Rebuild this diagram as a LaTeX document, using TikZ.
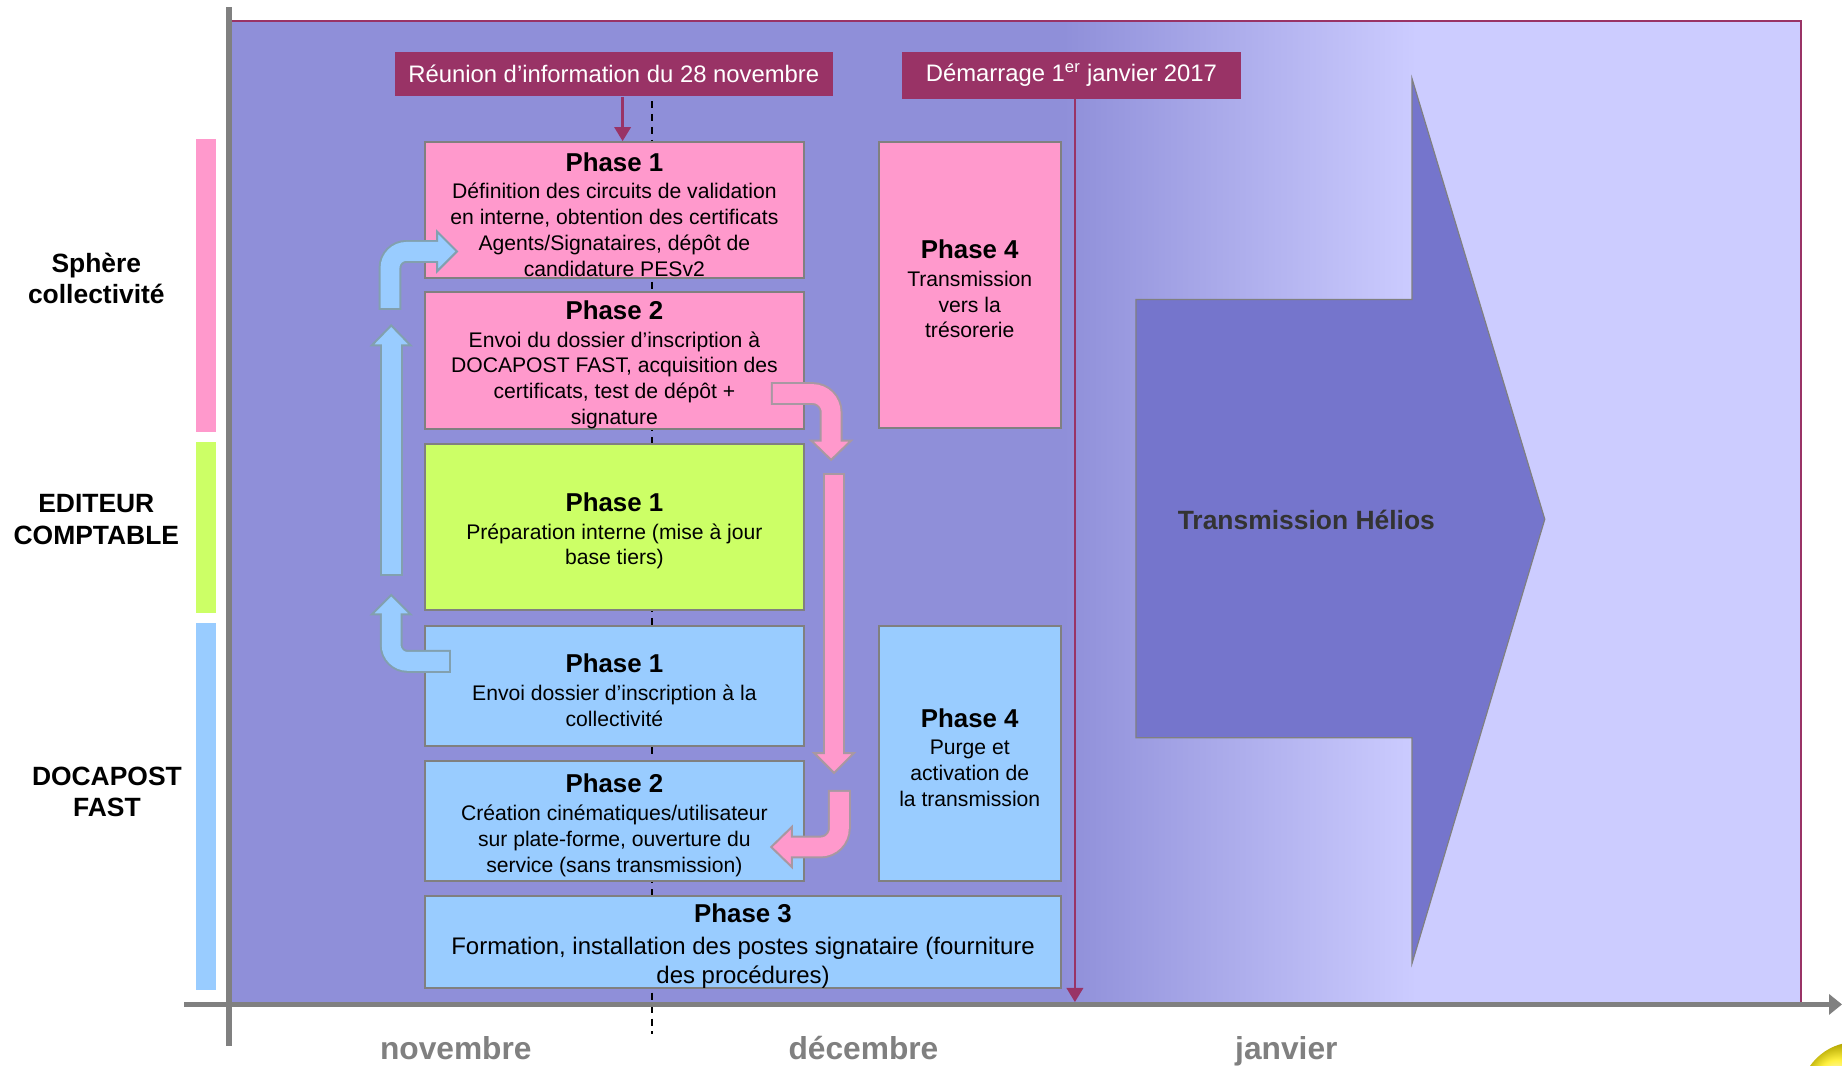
\documentclass[tikz,border=0pt]{standalone}
\usepackage{fontspec}
\setmainfont{Liberation Sans}
\usetikzlibrary{arrows.meta}

\definecolor{bgA}{RGB}{143,143,217}
\definecolor{bgB}{RGB}{204,204,255}
\definecolor{helios}{RGB}{117,117,204}
\definecolor{plum}{RGB}{153,51,102}
\definecolor{pinkbox}{RGB}{255,153,204}
\definecolor{greenbox}{RGB}{204,255,102}
\definecolor{bluebox}{RGB}{153,204,255}
\definecolor{boxedge}{RGB}{128,128,128}
\definecolor{axisgray}{RGB}{128,128,128}
\definecolor{blueedge}{RGB}{130,160,175}
\definecolor{pinkedge}{RGB}{168,152,162}

\tikzset{
  phasebox/.style={draw=boxedge, line width=1.7pt, inner sep=0pt, align=center,
    font=\fontsize{18}{22}\selectfont},
  banner/.style={fill=plum, text=white, inner sep=0pt,
    font=\fontsize{20.3}{24}\selectfont},
  rowlabel/.style={align=center, font=\bfseries\fontsize{22.5}{27}\selectfont},
  monthlabel/.style={anchor=base, text=axisgray, font=\bfseries\fontsize{27}{32}\selectfont},
  plumline/.style={draw=plum, line width=2pt, -{Triangle[length=12pt,width=14pt]}},
  axisline/.style={draw=axisgray, line width=5pt},
}

% title line of a phase box (the strut lowers the whole text block a little)
\newcommand\phasetitle[1]{{\rule{0pt}{23pt}\fontsize{22}{24}\selectfont\bfseries #1}\\[1.5pt]}

% block arrow: #1 fill, #2 outline colour, #3 shaft path, #4 head triangle
\newcommand\blockarrow[4]{%
  \draw[draw=#2, line width=19.4pt, shorten <=-1.7pt] #3;
  \filldraw[fill=#1, draw=#2, line width=1.7pt, line join=miter] #4 -- cycle;
  \draw[draw=#1, line width=16pt, shorten >=-3pt] #3;
}

\begin{document}
\begin{tikzpicture}[x=1pt, y=-1pt]
\useasboundingbox (0,0) rectangle (1568,907);
\fill[white] (0,0) rectangle (1568,907);

% timeline area
\fill[bgA] (197,18) rectangle (906,853);
\shade[left color=bgA, right color=bgB] (905,18) rectangle (1206,853);
\fill[bgB] (1205,18) rectangle (1533,853);
\draw[plum, line width=1.5pt] (197,18) -- (1533,18) -- (1533,853);

% end of November
\draw[black, line width=1.2pt, dash pattern=on 6pt off 5pt] (555,86) -- (555,880);

% actor bars and labels
\fill[pinkbox] (167,118) rectangle (184,368);
\fill[greenbox] (167,376) rectangle (184,522);
\fill[bluebox] (167,530) rectangle (184,843);
\node[rowlabel] (sphere) at (82,237) {Sphère\\collectivité};
\node[rowlabel] (editeur) at (82,442) {EDITEUR\\COMPTABLE};
\node[rowlabel] (docapost) at (91,674) {DOCAPOST\\FAST};

% phases
\node[phasebox, fill=pinkbox, minimum width=322pt, minimum height=116pt] (p1) at (523,179)
  {\phasetitle{Phase 1}Définition des circuits de validation\\en interne, obtention des certificats\\Agents/Signataires, dépôt de\\candidature PESv2};
\node[phasebox, fill=pinkbox, minimum width=322pt, minimum height=114pt] (p2) at (523,307)
  {\phasetitle{Phase 2}Envoi du dossier d’inscription à\\DOCAPOST FAST, acquisition des\\certificats, test de dépôt +\\signature};
\node[phasebox, fill=greenbox, minimum width=322pt, minimum height=141pt] (e1) at (523,448.5)
  {\phasetitle{Phase 1}Préparation interne (mise à jour\\base tiers)};
\node[phasebox, fill=bluebox, minimum width=322pt, minimum height=102pt] (d1) at (523,584)
  {\phasetitle{Phase 1}Envoi dossier d’inscription à la\\collectivité};
\node[phasebox, fill=bluebox, minimum width=322pt, minimum height=102pt] (d2) at (523,699)
  {\phasetitle{Phase 2}Création cinématiques/utilisateur\\sur plate-forme, ouverture du\\service (sans transmission)};
\node[phasebox, fill=bluebox, minimum width=541pt, minimum height=76pt,
      font=\fontsize{20.4}{25}\selectfont] (d3) at (632.5,802)
  {\phasetitle{Phase 3}Formation, installation des postes signataire (fourniture\\des procédures)};
\node[phasebox, fill=pinkbox, minimum width=155pt, minimum height=243pt] (p4) at (825.5,242.5)
  {\phasetitle{Phase 4}Transmission\\vers la\\trésorerie};
\node[phasebox, fill=bluebox, minimum width=155pt, minimum height=217pt] (d4) at (825.5,641.5)
  {\phasetitle{Phase 4}Purge et\\activation de\\la transmission};

% flow between the actors
\blockarrow{bluebox}{blueedge}{[rounded corners=14pt] (382,563) -| (333,523)}
  {(316.5,523) -- (349.5,523) -- (333,506.5)}
\blockarrow{bluebox}{blueedge}{(333,489) -- (333,294)}
  {(316.5,294) -- (349.5,294) -- (333,277)}
\blockarrow{bluebox}{blueedge}{[rounded corners=14pt] (332,262) |- (372,214)}
  {(372,197) -- (372,231) -- (389,214)}
\blockarrow{pinkbox}{pinkedge}{[rounded corners=16pt] (658,335) -| (707.5,375)}
  {(690.5,375) -- (724.5,375) -- (707.5,391.5)}
\blockarrow{pinkbox}{pinkedge}{(710,404) -- (710,641)}
  {(693,641) -- (727,641) -- (710,658)}
\blockarrow{pinkbox}{pinkedge}{[rounded corners=16pt] (714.5,674) |- (674,721)}
  {(674,704) -- (674,738) -- (656.5,721)}

% Helios transmission
\draw[fill=helios, draw=boxedge, line width=1pt, line join=miter]
  (967,255) -- (1202,255) -- (1202,67) -- (1315,442) -- (1202,820)
  -- (1202,628) -- (967,628) -- cycle;
\node[font=\bfseries\fontsize{22.5}{26}\selectfont, text=black!80] (helios) at (1112,443) {Transmission Hélios};

% milestones
\node[banner, minimum width=373pt, minimum height=38pt] (reunion) at (522.5,63)
  {Réunion d’information du 28 novembre};
\node[banner, minimum width=288pt, minimum height=40pt] (demarrage) at (912,64)
  {Démarrage 1\textsuperscript{er} janvier 2017};
\coordinate (startday) at (915,853);
\draw[plumline] ([xshift=7.5pt]reunion.south) -- ([xshift=7pt]p1.north);
\draw[plumline] ([xshift=3pt]demarrage.south) -- (startday);

% axes
\draw[axisline] (195,6) -- (195,890);
\draw[axisline, line width=4.5pt, -{Triangle[length=11pt,width=17pt]}] (157,855) -- (1568,855);

% months
\node[monthlabel] (nov) at (388,902) {novembre};
\node[monthlabel] (dec) at (735,902) {décembre};
\node[monthlabel] (jan) at (1095,902) {janvier};

% corner emblem
\begin{scope}
  \clip (0,0) rectangle (1568,907);
  \shade[ball color=yellow!85!orange] (1580,935) circle (48);
\end{scope}
\end{tikzpicture}
\end{document}
